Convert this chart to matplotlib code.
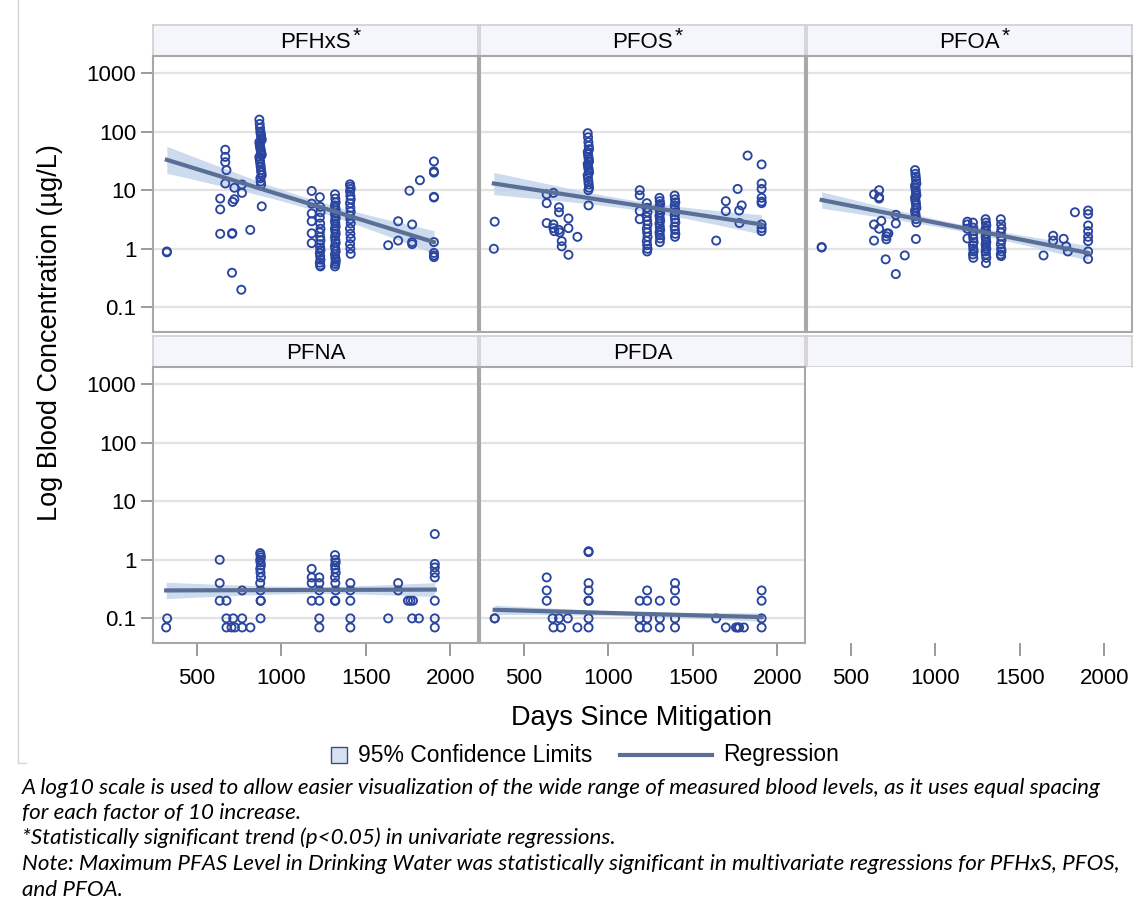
import matplotlib
matplotlib.use('Agg')
import matplotlib.pyplot as plt
from matplotlib.patches import Rectangle
from matplotlib.lines import Line2D
from matplotlib.ticker import NullLocator, FixedLocator
import numpy as np

plt.rcParams['font.family'] = ['Liberation Sans', 'DejaVu Sans']

# ---- data (days since mitigation, blood level ug/L) ----
panel_names = ['PFHxS', 'PFOS', 'PFOA', 'PFNA', 'PFDA']
significant = [True, True, True, False, False]

pfhxs_days = [322, 322, 638, 638, 638, 668, 668, 668, 675, 668, 708, 710, 708, 712, 722, 722, 763, 767, 767, 816,
              870, 872, 874, 876, 878, 880, 882, 884, 870, 872, 874, 876, 878, 880, 882, 884, 870, 872, 874, 876,
              878, 880, 882, 884, 876, 878, 880, 884,
              1180, 1180, 1180, 1180, 1180, 1180,
              1228, 1230, 1232, 1228, 1230, 1232, 1228, 1230, 1232, 1228, 1230, 1232, 1228, 1230, 1232, 1228, 1230, 1232,
              1318, 1320, 1322, 1318, 1320, 1322, 1318, 1320, 1322, 1318, 1320, 1322, 1318, 1320, 1322, 1318, 1320, 1322,
              1318, 1320, 1322, 1318, 1320, 1322, 1318, 1320, 1322,
              1407, 1409, 1411, 1407, 1409, 1411, 1407, 1409, 1411, 1407, 1409, 1411, 1407, 1409, 1411, 1407, 1409, 1411,
              1633, 1692, 1692, 1759, 1775, 1775, 1775, 1821, 1904, 1904, 1904, 1904, 1904, 1904, 1904, 1904, 1904]
pfhxs_vals = [0.9, 0.87, 7.2, 4.7, 1.8, 49, 37, 30, 22, 13, 1.8, 1.85, 0.39, 6.3, 7.0, 11, 0.2, 12.5, 9.0, 2.1,
              160, 135, 115, 100, 92, 85, 78, 72, 66, 60, 56, 52, 48, 45, 42, 40, 37, 34, 31, 28,
              25, 22, 20, 18, 16, 14, 12.5, 5.3,
              9.7, 5.9, 4.0, 2.95, 1.84, 1.25,
              7.6, 5.2, 4.2, 3.4, 2.7, 2.2, 1.9, 1.6, 1.4, 1.2, 1.05, 0.95, 0.85, 0.75, 0.65, 0.58, 0.52, 0.5,
              8.5, 7.2, 6.2, 5.5, 5.0, 4.5, 4.0, 3.6, 3.3, 3.0, 2.7, 2.4, 2.2, 2.0, 1.8, 1.6, 1.4, 1.25,
              1.1, 1.0, 0.9, 0.8, 0.7, 0.6, 0.5, 0.55, 0.65,
              12.6, 11.5, 10.5, 9.5, 8.0, 7.0, 6.0, 5.0, 4.3, 3.7, 3.2, 2.7, 2.2, 1.8, 1.5, 1.2, 1.0, 0.82,
              1.15, 2.95, 1.38, 9.8, 2.6, 1.3, 1.2, 14.8, 31, 21, 20, 7.7, 7.5, 1.3, 0.85, 0.77, 0.72]

pfos_days = [327, 322, 635, 635, 675, 635, 675, 675, 680, 708, 708, 708, 712, 724, 724, 764, 764, 764, 817, 883,
             878, 880, 882, 884, 886, 878, 880, 882, 884, 886, 878, 880, 882, 884, 886, 878, 880, 882, 884, 886, 882,
             1186, 1186, 1186, 1186,
             1228, 1230, 1232, 1228, 1230, 1232, 1228, 1230, 1232, 1228, 1230, 1232, 1230,
             1303, 1305, 1307, 1303, 1305, 1307, 1303, 1305, 1307, 1303, 1305, 1307, 1303, 1305, 1307, 1305,
             1393, 1395, 1397, 1393, 1395, 1397, 1393, 1395, 1397, 1393, 1395, 1397, 1395,
             1639, 1696, 1696, 1766, 1775, 1790, 1777, 1825, 1908, 1908, 1908, 1908, 1908, 1908, 1908, 1908, 1908]
pfos_vals = [2.9, 1.0, 8.5, 6.0, 9.0, 2.75, 2.6, 2.25, 2.0, 5.1, 4.2, 2.1, 1.9, 1.35, 1.1, 3.3, 2.25, 0.79, 1.6, 5.5,
             94, 80, 66, 57, 50, 45, 41, 37, 34, 31, 28, 26, 24, 22, 20, 18, 16, 14, 12.5, 11, 10,
             10, 8.2, 4.4, 3.2,
             6.0, 5.0, 4.2, 3.5, 3.0, 2.6, 2.2, 1.9, 1.6, 1.35, 1.15, 1.0, 0.9,
             7.4, 6.5, 5.8, 5.2, 4.6, 4.1, 3.7, 3.3, 3.0, 2.7, 2.4, 2.1, 1.9, 1.7, 1.5, 1.3,
             8.1, 7.0, 6.2, 5.5, 4.8, 4.2, 3.7, 3.2, 2.8, 2.4, 2.1, 1.8, 1.6,
             1.38, 6.5, 4.4, 10.5, 4.5, 5.5, 2.75, 39, 27.5, 13, 10.5, 7.4, 6.4, 6.0, 2.6, 2.25, 2.0]

pfoa_days = [327, 327, 637, 667, 667, 667, 637, 667, 680, 637, 710, 714, 722, 710, 706, 766, 766, 766, 819, 885,
             880, 882, 884, 886, 888, 880, 882, 884, 886, 888, 880, 882, 884, 886, 888, 880, 882, 884, 886, 888,
             1190, 1190, 1190, 1190,
             1223, 1225, 1227, 1223, 1225, 1227, 1223, 1225, 1227, 1223, 1225,
             1298, 1300, 1302, 1298, 1300, 1302, 1298, 1300, 1302, 1298, 1300, 1302, 1298, 1300, 1302, 1300,
             1388, 1390, 1392, 1388, 1390, 1392, 1388, 1390, 1392, 1388, 1390,
             1641, 1698, 1698, 1760, 1775, 1785, 1827, 1905, 1905, 1905, 1905, 1905, 1905, 1905, 1905]
pfoa_vals = [1.07, 1.05, 8.5, 10, 7.6, 7.2, 2.6, 2.2, 3.0, 1.38, 1.63, 1.83, 1.83, 1.45, 0.66, 0.37, 3.8, 2.7, 0.77, 1.47,
             22, 19, 17, 15, 13, 12, 11, 10, 9.0, 8.2, 7.5, 6.8, 6.2, 5.6, 5.0, 4.5, 4.0, 3.6, 3.2, 2.8,
             2.9, 2.6, 2.2, 1.5,
             2.8, 2.3, 2.0, 1.7, 1.5, 1.3, 1.15, 1.0, 0.9, 0.8, 0.7,
             3.2, 2.8, 2.5, 2.2, 2.0, 1.8, 1.6, 1.45, 1.3, 1.2, 1.1, 1.0, 0.9, 0.8, 0.7, 0.57,
             3.2, 2.6, 2.2, 1.9, 1.6, 1.4, 1.2, 1.0, 0.9, 0.8, 0.75,
             0.77, 1.67, 1.38, 1.48, 1.1, 0.9, 4.2, 4.5, 3.9, 2.5, 2.0, 1.6, 1.35, 0.9, 0.67]

pfna_days = [324, 318, 635, 635, 635, 675, 675, 715, 768, 675, 705, 725, 768, 817, 768,
             875, 877, 879, 875, 877, 879, 875, 877, 879, 875, 877, 879, 877, 877,
             1180, 1180, 1180, 1180, 1225, 1225, 1225, 1225, 1225, 1225,
             1318, 1320, 1322, 1318, 1320, 1322, 1318, 1320, 1322, 1318, 1320,
             1409, 1409, 1409, 1409, 1409,
             1633, 1692, 1692, 1750, 1765, 1780, 1775, 1815, 1909, 1909, 1909, 1909, 1909, 1909, 1909, 1909]
pfna_vals = [0.1, 0.07, 1.0, 0.4, 0.2, 0.2, 0.1, 0.1, 0.1, 0.07, 0.07, 0.07, 0.07, 0.07, 0.3,
             1.3, 1.2, 1.1, 1.0, 0.9, 0.8, 0.7, 0.6, 0.5, 0.4, 0.3, 0.2, 0.2, 0.1,
             0.7, 0.5, 0.4, 0.2, 0.5, 0.4, 0.3, 0.2, 0.1, 0.07,
             1.2, 1.0, 0.9, 0.8, 0.7, 0.6, 0.5, 0.4, 0.3, 0.2, 0.2,
             0.4, 0.3, 0.2, 0.1, 0.07,
             0.1, 0.4, 0.3, 0.2, 0.2, 0.2, 0.1, 0.1, 2.75, 0.85, 0.74, 0.6, 0.5, 0.2, 0.1, 0.07]

pfda_days = [327, 327, 635, 635, 635, 670, 708, 760, 675, 720, 817,
             883, 883, 883, 883, 883, 883, 883, 883,
             1186, 1186, 1186, 1230, 1230, 1230, 1230,
             1305, 1305, 1305,
             1395, 1395, 1395, 1395, 1395,
             1639, 1696, 1756, 1766, 1775, 1803, 1908, 1908, 1908, 1908]
pfda_vals = [0.1, 0.1, 0.5, 0.3, 0.2, 0.1, 0.1, 0.1, 0.07, 0.07, 0.07,
             1.4, 1.35, 0.4, 0.3, 0.2, 0.2, 0.1, 0.07,
             0.2, 0.1, 0.07, 0.3, 0.2, 0.1, 0.07,
             0.2, 0.1, 0.07,
             0.4, 0.3, 0.2, 0.1, 0.07,
             0.1, 0.07, 0.07, 0.07, 0.07, 0.07, 0.3, 0.2, 0.1, 0.07]

panel_days = [pfhxs_days, pfos_days, pfoa_days, pfna_days, pfda_days]
panel_vals = [pfhxs_vals, pfos_vals, pfoa_vals, pfna_vals, pfda_vals]

# regression line as drawn (value at first and last day) and 95% CL half-width (log10) at the first day
fit_start = [33, 13, 6.8, 0.30, 0.14]
fit_end = [1.3, 2.6, 0.85, 0.31, 0.105]
ci_start = [0.23, 0.19, 0.14, 0.14, 0.08]

y_ticks = [0.1, 1, 10, 100, 1000]
y_tick_labels = ['0.1', '1', '10', '100', '1000']
x_ticks = [500, 1000, 1500, 2000]

footnotes = [
    'A log10 scale is used to allow easier visualization of the wide range of measured blood levels, as it uses equal spacing',
    'for each factor of 10 increase.',
    '*Statistically significant trend (p<0.05) in univariate regressions.',
    'Note: Maximum PFAS Level in Drinking Water was statistically significant in multivariate regressions for PFHxS, PFOS,',
    'and PFOA.',
]

# ---- styling ----
marker_col = '#2a45a0'
line_col = '#5b6f96'
band_col = '#bcd0e8'
frame_col = '#a8a8a8'
grid_col = '#e3e3e3'

W, H = 1133, 918
fig = plt.figure(figsize=(W / 100, H / 100), dpi=100)


def box(x, y, w, h):
    return [x / W, 1 - (y + h) / H, w / W, h / H]


def band(days, y0, y1, hw0):
    # straight line in log space, confidence band shaped by the spread of the days
    x = np.asarray(days, float)
    n = len(x)
    xs = np.linspace(x.min(), x.max(), 120)
    sxx = np.sum((x - x.mean()) ** 2)
    shape = np.sqrt(1 / n + (xs - x.mean()) ** 2 / sxx)
    hw = hw0 * shape / shape[0]
    yh = np.log10(y0) + (np.log10(y1) - np.log10(y0)) * (xs - xs[0]) / (xs[-1] - xs[0])
    return xs, 10 ** yh, 10 ** (yh - hw), 10 ** (yh + hw)


col_left = [153, 480, 807]
row_top = [56, 367]
pw, ph = 325, 276
strip_h = 31

for i in range(6):
    r, c = divmod(i, 3)
    # strip header
    sax = fig.add_axes(box(col_left[c], row_top[r] - strip_h, pw, strip_h))
    sax.set_facecolor('#f5f6fc')
    sax.set_xticks([])
    sax.set_yticks([])
    for sp in sax.spines.values():
        sp.set_color('#cfcfcf')
        sp.set_linewidth(1.2)
    if i < 5:
        t = sax.text(0.5, 0.45, panel_names[i], ha='center', va='center', fontsize=16, transform=sax.transAxes)
        if significant[i]:
            fig.canvas.draw()
            bb = t.get_window_extent().transformed(sax.transAxes.inverted())
            sax.text(bb.x1 + 0.005, 0.62, '*', ha='left', va='center', fontsize=15, transform=sax.transAxes)

    ax = fig.add_axes(box(col_left[c], row_top[r], pw, ph))
    ax.set_yscale('log')
    ax.set_ylim(0.038, 1950)
    ax.set_xlim(240, 2165)
    ax.yaxis.set_major_locator(FixedLocator(y_ticks))
    ax.yaxis.set_minor_locator(NullLocator())
    ax.set_xticks(x_ticks)

    if i < 5:
        ax.yaxis.grid(True, color=grid_col, linewidth=1.6)
        ax.set_axisbelow(True)
        xs, yh, lo, hi = band(panel_days[i], fit_start[i], fit_end[i], ci_start[i])
        ax.fill_between(xs, lo, hi, color=band_col, alpha=0.75, linewidth=0, zorder=2)
        ax.scatter(panel_days[i], panel_vals[i], s=34, facecolors='none', edgecolors=marker_col,
                   linewidths=1.35, zorder=3)
        ax.plot(xs, yh, color=line_col, linewidth=3, zorder=4)
        for sp in ax.spines.values():
            sp.set_color(frame_col)
            sp.set_linewidth(1.5)
    else:
        for sp in ax.spines.values():
            sp.set_visible(False)

    if c == 0:
        ax.set_yticklabels(y_tick_labels)
        ax.tick_params(axis='y', length=9, width=1.2, color='#8a8a8a', labelsize=16, pad=3)
    else:
        ax.tick_params(axis='y', left=False, labelleft=False)

    if r == 1:
        ax.set_xticklabels([str(t) for t in x_ticks])
        ax.tick_params(axis='x', length=9, width=1.2, color='#8a8a8a', labelsize=16, pad=9)
    else:
        ax.tick_params(axis='x', bottom=False, labelbottom=False)

# axis titles
fig.text(50 / W, 1 - 333 / H, 'Log Blood Concentration (µg/L)', rotation=90, ha='center', va='center',
         fontsize=19.5)
fig.text(641 / W, 1 - 718 / H, 'Days Since Mitigation', ha='center', va='center', fontsize=19.5)

# legend
fig.patches.append(Rectangle((331 / W, 1 - 763 / H), 16 / W, 16 / H, transform=fig.transFigure,
                             facecolor='#d5e2f2', edgecolor='#3d4d78', linewidth=1.0))
fig.text(358 / W, 1 - 755 / H, '95% Confidence Limits', ha='left', va='center', fontsize=16.5)
fig.lines.append(Line2D([620 / W, 712 / W], [1 - 755 / H, 1 - 755 / H], transform=fig.transFigure,
                        color=line_col, linewidth=3))
fig.text(723 / W, 1 - 755 / H, 'Regression', ha='left', va='center', fontsize=16.5)

# left border line of the original graphic
fig.lines.append(Line2D([18 / W, 18 / W, 26 / W], [1.0, 1 - 763 / H, 1 - 763 / H], transform=fig.transFigure,
                        color='#d4d4d4', linewidth=1.0))

# footnotes
foot_y = [788, 813, 838, 864, 890]
fnt = []
for txt, y in zip(footnotes, foot_y):
    fnt.append(fig.text(22 / W, 1 - y / H, txt, ha='left', va='center', fontsize=14, style='italic',
                        family=['Lato', 'DejaVu Sans']))
fig.canvas.draw()
w0 = fnt[0].get_window_extent().width
scale = 1083 / w0
for t in fnt:
    t.set_fontsize(14 * scale)

fig.savefig('out.png', dpi=100, facecolor='white')
